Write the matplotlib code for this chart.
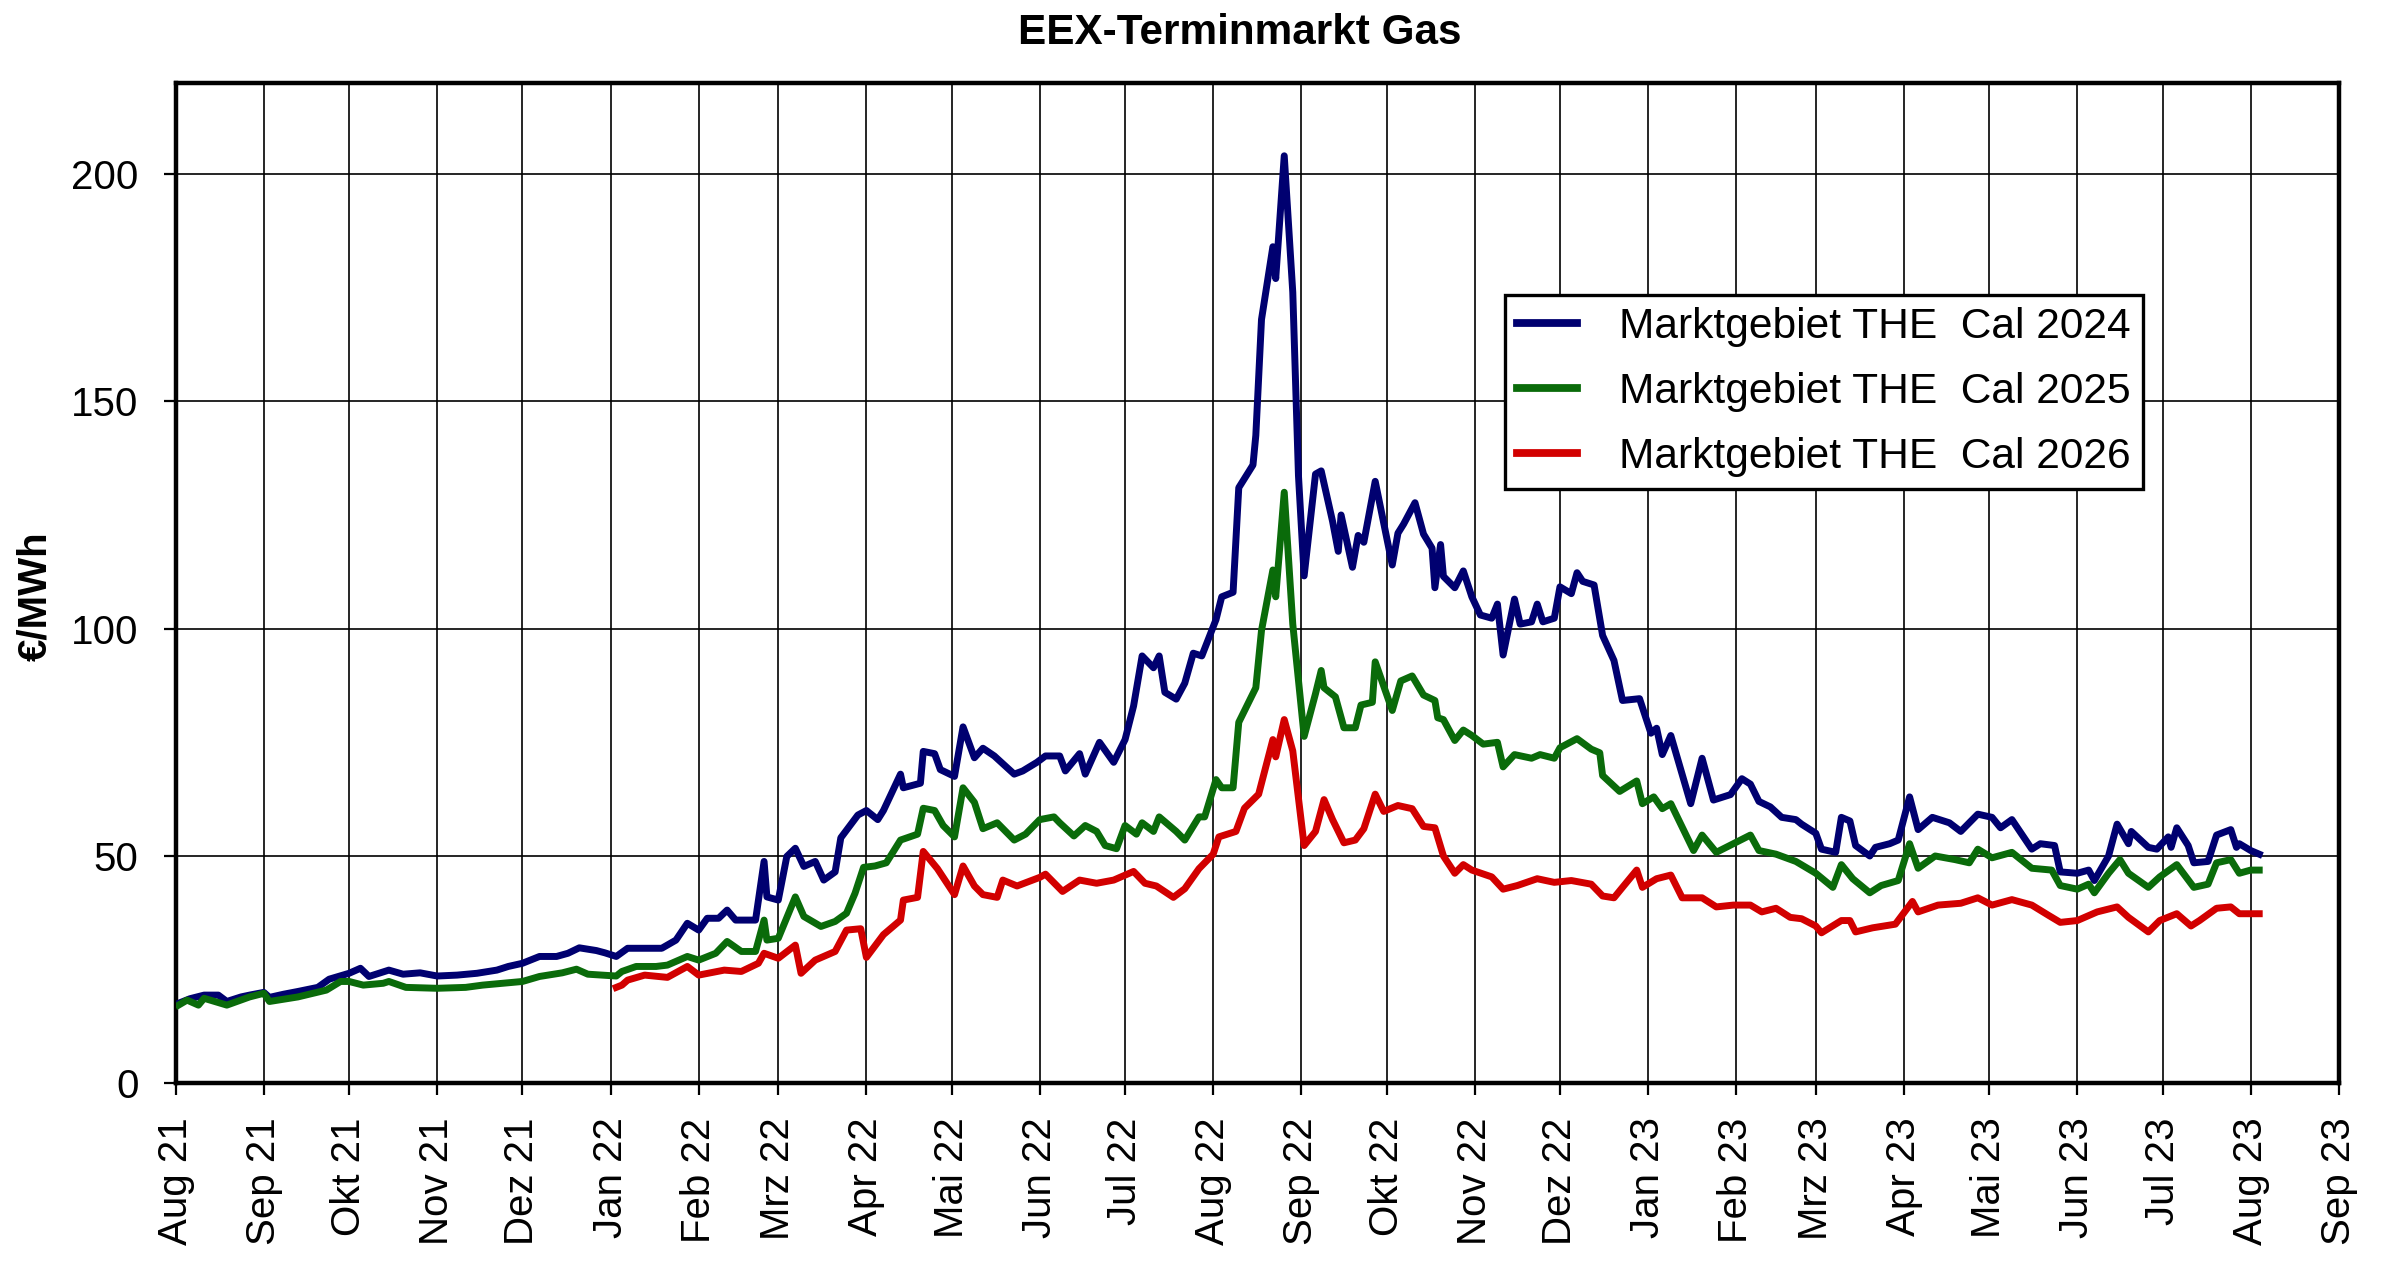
import matplotlib
matplotlib.use("Agg")
import matplotlib.pyplot as plt
import pandas as pd

plt.rcParams['font.family'] = ['Liberation Sans', 'DejaVu Sans']

title = "EEX-Terminmarkt Gas"
y_label = "€/MWh"
series_labels = ["Marktgebiet THE  Cal 2024",
                 "Marktgebiet THE  Cal 2025",
                 "Marktgebiet THE  Cal 2026"]
series_colors = ["#000070", "#0a6b0a", "#d20000"]

tick_labels = ["Aug 21", "Sep 21", "Okt 21", "Nov 21", "Dez 21",
               "Jan 22", "Feb 22", "Mrz 22", "Apr 22", "Mai 22", "Jun 22", "Jul 22",
               "Aug 22", "Sep 22", "Okt 22", "Nov 22", "Dez 22",
               "Jan 23", "Feb 23", "Mrz 23", "Apr 23", "Mai 23", "Jun 23", "Jul 23",
               "Aug 23", "Sep 23"]

# Cal 2024
dates_2024 = [
    "2021-08-02", "2021-08-06", "2021-08-11", "2021-08-16", "2021-08-19", "2021-08-24", "2021-08-27",
    "2021-09-01", "2021-09-03", "2021-09-08", "2021-09-13", "2021-09-20", "2021-09-24",
    "2021-10-01", "2021-10-05", "2021-10-08", "2021-10-15", "2021-10-20", "2021-10-26",
    "2021-11-01", "2021-11-08", "2021-11-15", "2021-11-22", "2021-11-26",
    "2021-12-01", "2021-12-07", "2021-12-13", "2021-12-17", "2021-12-21", "2021-12-27", "2021-12-30",
    "2022-01-03", "2022-01-07", "2022-01-13", "2022-01-19", "2022-01-24", "2022-01-28",
    "2022-02-01", "2022-02-04", "2022-02-08", "2022-02-11", "2022-02-14", "2022-02-21", "2022-02-24", "2022-02-25",
    "2022-03-01", "2022-03-04", "2022-03-07", "2022-03-10", "2022-03-14", "2022-03-17", "2022-03-21",
    "2022-03-23", "2022-03-29",
    "2022-04-01", "2022-04-05", "2022-04-07", "2022-04-13", "2022-04-14", "2022-04-20", "2022-04-21",
    "2022-04-25", "2022-04-27",
    "2022-05-02", "2022-05-05", "2022-05-09", "2022-05-12", "2022-05-16", "2022-05-23", "2022-05-26", "2022-05-31",
    "2022-06-03", "2022-06-08", "2022-06-10", "2022-06-15", "2022-06-17", "2022-06-22", "2022-06-27",
    "2022-07-01", "2022-07-04", "2022-07-07", "2022-07-11", "2022-07-13", "2022-07-15", "2022-07-19",
    "2022-07-22", "2022-07-25", "2022-07-28",
    "2022-08-02", "2022-08-04", "2022-08-08", "2022-08-10", "2022-08-15", "2022-08-16", "2022-08-18",
    "2022-08-22", "2022-08-23", "2022-08-26", "2022-08-29", "2022-08-31",
    "2022-09-02", "2022-09-06", "2022-09-08", "2022-09-12", "2022-09-14", "2022-09-15", "2022-09-19",
    "2022-09-21", "2022-09-23", "2022-09-27",
    "2022-10-03", "2022-10-05", "2022-10-07", "2022-10-11", "2022-10-14", "2022-10-17", "2022-10-18",
    "2022-10-20", "2022-10-21", "2022-10-25", "2022-10-28", "2022-10-31",
    "2022-11-03", "2022-11-07", "2022-11-09", "2022-11-11", "2022-11-15", "2022-11-17", "2022-11-21",
    "2022-11-23", "2022-11-25", "2022-11-29",
    "2022-12-01", "2022-12-05", "2022-12-07", "2022-12-09", "2022-12-13", "2022-12-16", "2022-12-20",
    "2022-12-23", "2022-12-29",
    "2023-01-02", "2023-01-04", "2023-01-06", "2023-01-09", "2023-01-16", "2023-01-20", "2023-01-24", "2023-01-30",
    "2023-02-03", "2023-02-06", "2023-02-09", "2023-02-13", "2023-02-17", "2023-02-22", "2023-02-24",
    "2023-03-01", "2023-03-03", "2023-03-08", "2023-03-10", "2023-03-13", "2023-03-15", "2023-03-20",
    "2023-03-22", "2023-03-27", "2023-03-30",
    "2023-04-03", "2023-04-06", "2023-04-11", "2023-04-17", "2023-04-21", "2023-04-27",
    "2023-05-02", "2023-05-05", "2023-05-09", "2023-05-16", "2023-05-19", "2023-05-24", "2023-05-26",
    "2023-06-01", "2023-06-05", "2023-06-07", "2023-06-12", "2023-06-15", "2023-06-19", "2023-06-20",
    "2023-06-26", "2023-06-29",
    "2023-07-03", "2023-07-04", "2023-07-06", "2023-07-10", "2023-07-12", "2023-07-17", "2023-07-20",
    "2023-07-25", "2023-07-27", "2023-07-28",
    "2023-08-01", "2023-08-04"]
cal_2024 = [
    17.6, 18.6, 19.4, 19.4, 18.0, 19.0, 19.4,
    20.0, 18.9, 19.6, 20.2, 21.1, 22.9,
    24.2, 25.3, 23.5, 24.9, 24.0, 24.3,
    23.6, 23.8, 24.2, 24.9, 25.7,
    26.4, 27.9, 27.9, 28.6, 29.8, 29.2, 28.7,
    27.9, 29.7, 29.7, 29.7, 31.5, 35.2,
    33.7, 36.3, 36.3, 38.1, 35.9, 35.9, 48.8, 41.0,
    40.3, 49.9, 51.7, 47.7, 48.8, 44.7, 46.5,
    54.0, 59.0,
    60.0, 58.0, 60.0, 68.0, 65.0, 66.0, 73.0,
    72.5, 69.0,
    67.5, 78.4, 71.6, 73.7, 72.0, 68.0, 68.7, 70.6,
    72.0, 72.0, 68.7, 72.5, 68.0, 75.0, 70.6,
    75.6, 83.0, 94.0, 91.4, 94.0, 86.0, 84.5,
    88.0, 94.6, 94.0,
    102.0, 107.0, 108.0, 131.0, 136.0, 142.5, 168.0,
    184.0, 177.0, 204.0, 174.0, 133.7,
    111.6, 134.0, 134.7, 123.6, 117.0, 125.0, 113.5,
    120.5, 119.0, 132.4,
    114.0, 121.0, 123.0, 127.7, 120.8, 117.7, 109.0,
    118.5, 111.5, 109.0, 112.7, 107.0,
    103.0, 102.3, 105.4, 94.2, 106.5, 101.0, 101.5,
    105.4, 101.5, 102.3,
    109.2, 107.7, 112.3, 110.4, 109.6, 98.5, 93.0,
    84.2, 84.6,
    77.0, 78.1, 72.3, 76.5, 61.5, 71.5, 62.3, 63.5,
    67.0, 65.8, 62.0, 60.8, 58.5, 58.0, 57.0,
    55.0, 51.5, 50.8, 58.5, 57.7, 52.3, 50.0,
    51.9, 52.7, 53.5,
    63.0, 55.8, 58.5, 57.3, 55.4, 59.2,
    58.5, 56.2, 58.0, 51.5, 52.7, 52.3, 46.5,
    46.2, 46.9, 44.6, 50.0, 57.0, 52.7, 55.4,
    51.9, 51.5,
    54.2, 51.9, 56.2, 52.3, 48.5, 48.8, 54.6,
    55.8, 51.9, 52.7,
    51.2, 50.4]

# Cal 2025
dates_2025 = [
    "2021-08-02", "2021-08-05", "2021-08-09", "2021-08-11", "2021-08-19", "2021-08-27",
    "2021-09-01", "2021-09-03", "2021-09-13", "2021-09-23", "2021-09-28",
    "2021-10-01", "2021-10-06", "2021-10-13", "2021-10-15", "2021-10-21",
    "2021-11-01", "2021-11-11", "2021-11-17", "2021-11-26",
    "2021-12-01", "2021-12-07", "2021-12-15", "2021-12-20", "2021-12-24",
    "2022-01-03", "2022-01-05", "2022-01-10", "2022-01-17", "2022-01-21", "2022-01-28",
    "2022-02-01", "2022-02-07", "2022-02-11", "2022-02-16", "2022-02-21", "2022-02-24", "2022-02-25",
    "2022-03-01", "2022-03-07", "2022-03-10", "2022-03-16", "2022-03-21", "2022-03-25", "2022-03-28", "2022-03-31",
    "2022-04-04", "2022-04-08", "2022-04-13", "2022-04-19", "2022-04-21", "2022-04-25", "2022-04-28",
    "2022-05-02", "2022-05-05", "2022-05-09", "2022-05-12", "2022-05-17", "2022-05-23", "2022-05-27",
    "2022-06-01", "2022-06-06", "2022-06-08", "2022-06-13", "2022-06-17", "2022-06-21", "2022-06-24", "2022-06-28",
    "2022-07-01", "2022-07-05", "2022-07-07", "2022-07-11", "2022-07-13", "2022-07-19", "2022-07-22",
    "2022-07-27", "2022-07-29",
    "2022-08-02", "2022-08-04", "2022-08-08", "2022-08-10", "2022-08-16", "2022-08-18", "2022-08-22",
    "2022-08-23", "2022-08-26", "2022-08-29",
    "2022-09-02", "2022-09-06", "2022-09-08", "2022-09-09", "2022-09-13", "2022-09-16", "2022-09-20",
    "2022-09-22", "2022-09-26", "2022-09-27",
    "2022-10-03", "2022-10-06", "2022-10-10", "2022-10-14", "2022-10-18", "2022-10-19", "2022-10-21",
    "2022-10-25", "2022-10-28", "2022-10-31",
    "2022-11-04", "2022-11-09", "2022-11-11", "2022-11-15", "2022-11-21", "2022-11-24", "2022-11-29",
    "2022-12-01", "2022-12-07", "2022-12-12", "2022-12-15", "2022-12-16", "2022-12-22", "2022-12-28", "2022-12-30",
    "2023-01-03", "2023-01-06", "2023-01-09", "2023-01-17", "2023-01-20", "2023-01-25", "2023-01-31",
    "2023-02-06", "2023-02-09", "2023-02-15", "2023-02-22",
    "2023-03-01", "2023-03-07", "2023-03-10", "2023-03-14", "2023-03-20", "2023-03-24", "2023-03-30",
    "2023-04-03", "2023-04-06", "2023-04-12", "2023-04-19", "2023-04-24", "2023-04-27",
    "2023-05-02", "2023-05-09", "2023-05-16", "2023-05-23", "2023-05-26",
    "2023-06-01", "2023-06-05", "2023-06-07", "2023-06-12", "2023-06-16", "2023-06-19", "2023-06-26", "2023-06-30",
    "2023-07-06", "2023-07-12", "2023-07-17", "2023-07-20", "2023-07-25", "2023-07-28",
    "2023-08-01", "2023-08-04"]
cal_2025 = [
    17.2, 18.3, 17.2, 18.7, 17.2, 19.0,
    19.8, 18.0, 19.0, 20.5, 22.4,
    22.4, 21.6, 22.0, 22.4, 21.1,
    20.9, 21.1, 21.6, 22.1,
    22.4, 23.5, 24.3, 25.1, 24.0,
    23.6, 24.6, 25.7, 25.7, 26.0, 27.9,
    27.1, 28.6, 31.2, 29.0, 29.0, 35.9, 31.5,
    31.9, 41.0, 36.7, 34.5, 35.6, 37.4, 41.8, 47.5,
    47.8, 48.5, 53.5, 54.8, 60.5, 60.0, 56.7,
    54.2, 65.0, 61.8, 56.0, 57.3, 53.5, 54.8,
    58.0, 58.6, 57.3, 54.4, 56.7, 55.4, 52.3, 51.6,
    56.7, 54.8, 57.3, 55.4, 58.6, 55.4, 53.5,
    58.6, 58.6,
    66.8, 65.0, 65.0, 79.4, 87.0, 99.6, 112.9,
    107.0, 130.0, 101.0,
    76.3, 85.7, 90.8, 87.0, 85.0, 78.2, 78.2,
    83.2, 83.8, 92.7,
    82.0, 88.5, 89.6, 85.4, 84.2, 80.4, 80.0,
    75.4, 77.7, 76.5,
    74.6, 75.0, 69.6, 72.3, 71.5, 72.3, 71.5,
    73.8, 75.8, 73.5, 72.7, 67.7, 64.2, 66.5, 61.5,
    63.0, 60.4, 61.5, 51.2, 54.6, 50.8, 52.7,
    54.6, 51.2, 50.4, 48.8,
    46.2, 43.1, 48.1, 45.0, 41.9, 43.5, 44.6,
    52.7, 47.3, 50.0, 49.2, 48.5, 51.5,
    49.6, 50.8, 47.3, 46.9, 43.5,
    42.7, 43.8, 41.9, 46.2, 49.2, 46.2, 43.1, 45.4,
    48.1, 43.1, 43.8, 48.5, 49.2, 46.2,
    46.9, 46.9]

# Cal 2026
dates_2026 = [
    "2022-01-03", "2022-01-05", "2022-01-07", "2022-01-13", "2022-01-21", "2022-01-28",
    "2022-02-01", "2022-02-10", "2022-02-16", "2022-02-22", "2022-02-24",
    "2022-03-01", "2022-03-07", "2022-03-09", "2022-03-14", "2022-03-21", "2022-03-25", "2022-03-30",
    "2022-04-01", "2022-04-07", "2022-04-13", "2022-04-14", "2022-04-19", "2022-04-21", "2022-04-26",
    "2022-05-02", "2022-05-05", "2022-05-09", "2022-05-12", "2022-05-17", "2022-05-19", "2022-05-24",
    "2022-06-01", "2022-06-03", "2022-06-09", "2022-06-15", "2022-06-21", "2022-06-27",
    "2022-07-04", "2022-07-08", "2022-07-12", "2022-07-18", "2022-07-22", "2022-07-27",
    "2022-08-01", "2022-08-03", "2022-08-09", "2022-08-12", "2022-08-17", "2022-08-22", "2022-08-23",
    "2022-08-26", "2022-08-29",
    "2022-09-02", "2022-09-06", "2022-09-09", "2022-09-12", "2022-09-16", "2022-09-20", "2022-09-23",
    "2022-09-27", "2022-09-30",
    "2022-10-05", "2022-10-10", "2022-10-14", "2022-10-18", "2022-10-21", "2022-10-25", "2022-10-28", "2022-10-31",
    "2022-11-07", "2022-11-11", "2022-11-16", "2022-11-23", "2022-11-29",
    "2022-12-05", "2022-12-12", "2022-12-16", "2022-12-20", "2022-12-23", "2022-12-28", "2022-12-30",
    "2023-01-04", "2023-01-09", "2023-01-13", "2023-01-20", "2023-01-25", "2023-01-31",
    "2023-02-06", "2023-02-10", "2023-02-15", "2023-02-20", "2023-02-24",
    "2023-03-01", "2023-03-03", "2023-03-10", "2023-03-13", "2023-03-15", "2023-03-21", "2023-03-29",
    "2023-04-04", "2023-04-06", "2023-04-13", "2023-04-21", "2023-04-27",
    "2023-05-02", "2023-05-09", "2023-05-16", "2023-05-22", "2023-05-26",
    "2023-06-01", "2023-06-08", "2023-06-15", "2023-06-19", "2023-06-26", "2023-06-30",
    "2023-07-06", "2023-07-11", "2023-07-14", "2023-07-20", "2023-07-25", "2023-07-28",
    "2023-08-04"]
cal_2026 = [
    21.1, 21.6, 22.7, 23.8, 23.3, 25.7,
    23.8, 24.9, 24.6, 26.4, 28.6,
    27.5, 30.4, 24.2, 27.1, 29.0, 33.7, 34.0,
    27.7, 32.7, 35.9, 40.3, 40.9, 51.0, 47.2,
    41.5, 47.8, 43.4, 41.5, 40.9, 44.7, 43.4,
    45.3, 46.0, 42.2, 44.7, 44.0, 44.7,
    46.6, 44.0, 43.4, 40.9, 42.8, 47.2,
    50.4, 54.2, 55.4, 60.5, 63.6, 75.6, 71.8,
    80.0, 73.1,
    52.3, 55.4, 62.4, 58.0, 52.9, 53.5, 56.0,
    63.6, 59.8,
    61.1, 60.4, 56.5, 56.2, 50.0, 46.2, 48.1, 46.9,
    45.4, 42.7, 43.5, 45.0, 44.2,
    44.6, 43.8, 41.2, 40.8, 43.1, 46.9, 43.1,
    45.0, 45.8, 40.8, 40.8, 38.8, 39.2,
    39.2, 37.7, 38.5, 36.5, 36.2,
    34.6, 33.1, 35.8, 35.8, 33.3, 34.2, 35.0,
    40.0, 37.7, 39.2, 39.6, 40.8,
    39.2, 40.4, 39.2, 36.9, 35.4,
    35.8, 37.7, 38.8, 36.5, 33.3, 35.8,
    37.3, 34.6, 35.8, 38.5, 38.8, 37.3,
    37.3]

fig = plt.figure(figsize=(12, 6.33), dpi=200)
ax = fig.add_axes([0.0732, 0.1443, 0.9013, 0.7901])

all_dates = [dates_2024, dates_2025, dates_2026]
all_values = [cal_2024, cal_2025, cal_2026]
for d, v, lab, col in zip(all_dates, all_values, series_labels, series_colors):
    ax.plot(pd.to_datetime(d), v, color=col, lw=2.5, label=lab,
            solid_joinstyle='round', zorder=3)

tick_dates = pd.date_range("2021-08-01", "2023-09-01", freq="MS")
ax.set_xlim(tick_dates[0], tick_dates[-1])
ax.set_xticks(tick_dates)
ax.set_xticklabels(tick_labels, rotation=90)
ax.set_ylim(0, 220)
ax.set_yticks([0, 50, 100, 150, 200])

ax.grid(True, color='black', lw=0.6)
ax.set_axisbelow(True)
ax.tick_params(axis='both', direction='out', length=4.3, width=0.8, labelsize=14.5)
ax.tick_params(axis='y', pad=9)
ax.tick_params(axis='x', pad=8)
for sp in ax.spines.values():
    sp.set_linewidth(1.6)

ax.set_title(title, fontsize=15.2, fontweight='bold', pad=14, x=0.492)
ax.set_ylabel(y_label, fontsize=14.5, fontweight='bold')
ax.yaxis.set_label_coords(-0.056, 0.487)

leg = ax.legend(loc='upper left', bbox_to_anchor=(0.6146, 0.788), borderaxespad=0,
                fontsize=15.3, frameon=True, fancybox=False, edgecolor='black',
                framealpha=1, handlelength=1.4, handletextpad=1.0,
                borderpad=0.28, labelspacing=0.59)
leg.get_frame().set_linewidth(1.2)
for line in leg.get_lines():
    line.set_linewidth(2.8)

fig.savefig("out.png", dpi=200)
